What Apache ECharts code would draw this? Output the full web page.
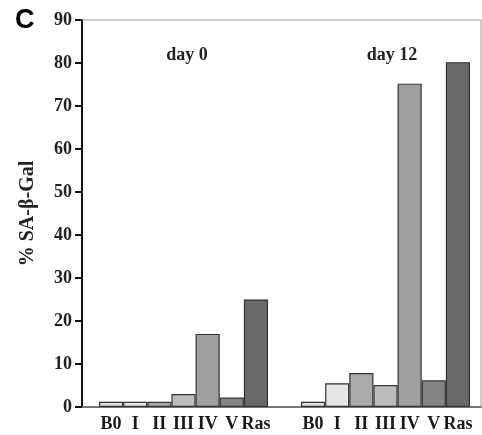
<!DOCTYPE html>
<html><head><meta charset="utf-8">
<script src="https://cdn.jsdelivr.net/npm/echarts@6/dist/echarts.min.js"></script>
<style>html,body{margin:0;padding:0;background:#fff}#c{width:482px;height:435px}</style>
</head><body><div id="c"></div>
<script>
const categories = ['B0','I','II','III','IV','V','Ras'];
const day0 = [1.2, 1.2, 1.2, 3.0, 17.0, 2.2, 25.0];
const day12 = [1.2, 5.5, 7.9, 5.1, 75.2, 6.2, 80.2];
const barColors = ['#e2e2e2','#e6e6e6','#aaaaaa','#bbbbbb','#a0a0a0','#858585','#6a6a6a'];
const yTicks = [0,10,20,30,40,50,60,70,80,90];
const groupTitles = ['day 0','day 12'];

const serif = '"Liberation Serif","Times New Roman",serif';
const chart = echarts.init(document.getElementById('c'));
const mk = (vals) => vals.map((v,i)=>({value:v,itemStyle:{color:barColors[i]}}));
const gTop = 20, gBottom = 28;
const catLabel = {interval:0,margin:8,fontFamily:serif,fontWeight:'bold',fontSize:18,color:'#1a1a1a'};
chart.setOption({
  animation:false,
  title:[
    {text:'C',left:10,top:2,textStyle:{fontFamily:'"Liberation Sans",Arial,sans-serif',fontWeight:'bold',fontSize:27,color:'#000'}},
    {text:groupTitles[0],left:182,top:41,textAlign:'center',textStyle:{fontFamily:serif,fontWeight:'bold',fontSize:18,color:'#222'}},
    {text:groupTitles[1],left:387,top:41,textAlign:'center',textStyle:{fontFamily:serif,fontWeight:'bold',fontSize:18,color:'#222'}}
  ],
  grid:[
    {left:82,right:1,top:gTop,bottom:gBottom,show:true,borderColor:'#999',borderWidth:1},
    {left:99,width:169,top:gTop,bottom:gBottom},
    {left:301,width:169,top:gTop,bottom:gBottom}
  ],
  xAxis:[
    {gridIndex:0,type:'value',min:0,max:1,axisLabel:{show:false},axisTick:{show:false},splitLine:{show:false},axisLine:{show:true,lineStyle:{color:'#777',width:2}}},
    {gridIndex:1,type:'category',data:categories,axisLine:{show:false},axisTick:{show:false},axisLabel:catLabel},
    {gridIndex:2,type:'category',data:categories,axisLine:{show:false},axisTick:{show:false},axisLabel:catLabel}
  ],
  yAxis:[
    {gridIndex:0,type:'value',min:yTicks[0],max:yTicks[yTicks.length-1],interval:10,
     name:'% SA-β-Gal',nameLocation:'middle',nameGap:44,nameRotate:90,
     nameTextStyle:{fontFamily:serif,fontWeight:'bold',fontSize:20,color:'#222'},
     axisLine:{show:true,lineStyle:{color:'#111',width:2}},
     axisTick:{show:true,length:7,lineStyle:{color:'#111',width:2}},
     axisLabel:{margin:10,fontFamily:serif,fontWeight:'bold',fontSize:18,color:'#222'},
     splitLine:{show:false}},
    {gridIndex:1,type:'value',min:0,max:90,show:false},
    {gridIndex:2,type:'value',min:0,max:90,show:false}
  ],
  series:[
    {type:'bar',xAxisIndex:1,yAxisIndex:1,data:mk(day0),barCategoryGap:'0%',itemStyle:{borderColor:'#333',borderWidth:1.2}},
    {type:'bar',xAxisIndex:2,yAxisIndex:2,data:mk(day12),barCategoryGap:'0%',itemStyle:{borderColor:'#333',borderWidth:1.2}}
  ]
});
</script></body></html>
